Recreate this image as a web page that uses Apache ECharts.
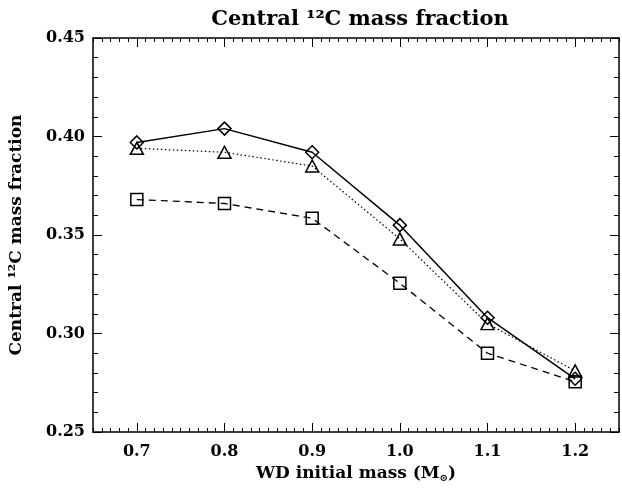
<!DOCTYPE html>
<html>
<head>
<meta charset="utf-8">
<script src="https://cdn.jsdelivr.net/npm/echarts@6/dist/echarts.min.js"></script>
<style>
  html, body { margin: 0; padding: 0; background: #fff; }
  #chart { width: 622px; height: 489px; }
</style>
</head>
<body>
<div id="chart"></div>
<script>
// WD initial mass (Msun)
var masses = [0.7, 0.8, 0.9, 1.0, 1.1, 1.2];
// central 12C mass fraction, one list per curve
var diamondVals = [0.397, 0.404, 0.392, 0.355, 0.308, 0.277];
var triangleVals = [0.394, 0.392, 0.385, 0.348, 0.305, 0.281];
var squareVals = [0.368, 0.366, 0.3585, 0.3255, 0.290, 0.2755];
// x tick labels
var xTicks = [0.7, 0.8, 0.9, 1.0, 1.1, 1.2];

var font = 'DejaVu Serif';

function pairs(ys) {
  return masses.map(function (m, i) { return [m, ys[i]]; });
}

var myChart = echarts.init(document.getElementById('chart'));

var lineBlack = { color: '#000', width: 1.5 };

// major x ticks (custom values, the range starts half way between ticks)
function xMajor(pos, labels) {
  return {
    type: 'value', min: 0.65, max: 1.25, position: pos,
    axisLine: { show: true, onZero: false, lineStyle: lineBlack },
    axisTick: { show: true, inside: true, length: 9, customValues: xTicks, lineStyle: { color: '#000', width: 1 } },
    axisLabel: labels ? {
      show: true, margin: 12, fontFamily: font, fontSize: 16, fontWeight: 'bold', color: '#000',
      customValues: xTicks,
      formatter: function (v) { return v.toFixed(1); }
    } : { show: false },
    splitLine: { show: false }
  };
}
// minor x ticks every 0.01
function xMinor(pos) {
  return {
    type: 'value', min: 0.65, max: 1.25, interval: 0.01, position: pos,
    axisLine: { show: false, onZero: false },
    axisTick: { show: true, inside: true, length: 4, lineStyle: { color: '#000', width: 1 } },
    axisLabel: { show: false },
    splitLine: { show: false }
  };
}

var xBottom = xMajor('bottom', true);
xBottom.name = '{a|WD initial mass (M}{s|⊙}{a|)}';
xBottom.nameLocation = 'middle';
xBottom.nameGap = 30;
xBottom.nameTextStyle = {
  rich: {
    a: { fontFamily: font, fontSize: 17, fontWeight: 'bold', color: '#000' },
    s: { fontFamily: font, fontSize: 10, fontWeight: 'bold', color: '#000', padding: [10, 0, 0, 0] }
  }
};

function yAxisDef(pos, labels) {
  var ax = {
    type: 'value', min: 0.25, max: 0.45, interval: 0.05, position: pos,
    axisLine: { show: true, onZero: false, lineStyle: lineBlack },
    axisTick: { show: true, inside: true, length: 9, lineStyle: { color: '#000', width: 1 } },
    minorTick: { show: true, splitNumber: 5, length: 5, lineStyle: { color: '#000', width: 1 } },
    axisLabel: labels ? {
      margin: 8, fontFamily: font, fontSize: 16, fontWeight: 'bold', color: '#000',
      formatter: function (v) { return v.toFixed(2); }
    } : { show: false },
    splitLine: { show: false }
  };
  if (labels) {
    ax.name = 'Central ¹²C mass fraction';
    ax.nameLocation = 'middle';
    ax.nameGap = 68;
    ax.nameTextStyle = { fontFamily: font, fontSize: 17, fontWeight: 'bold', color: '#000' };
  }
  return ax;
}

var option = {
  backgroundColor: '#fff',
  animation: false,
  title: {
    text: 'Central ¹²C mass fraction',
    left: 355,
    textAlign: 'center',
    top: 4,
    textStyle: { fontFamily: font, fontSize: 21, fontWeight: 'bold', color: '#000' }
  },
  grid: { left: 91, right: 3, top: 38, bottom: 57 },
  xAxis: [xBottom, xMajor('top', false), xMinor('bottom'), xMinor('top')],
  yAxis: [yAxisDef('left', true), yAxisDef('right', false)],
  series: [
    {
      name: 'diamond', type: 'line', data: pairs(diamondVals),
      symbol: 'path://M0,-1 L1,0 L0,1 L-1,0 Z', symbolSize: 13,
      lineStyle: { color: '#000', width: 1.5, type: 'solid' },
      itemStyle: { color: 'transparent', borderColor: '#000', borderWidth: 1.5 }
    },
    {
      name: 'triangle', type: 'line', data: pairs(triangleVals),
      symbol: 'triangle', symbolSize: [13, 12],
      lineStyle: { color: '#000', width: 1.2, type: [1.5, 2.5] },
      itemStyle: { color: 'transparent', borderColor: '#000', borderWidth: 1.5 }
    },
    {
      name: 'square', type: 'line', data: pairs(squareVals),
      symbol: 'rect', symbolSize: 12,
      lineStyle: { color: '#000', width: 1.3, type: [7, 5] },
      itemStyle: { color: 'transparent', borderColor: '#000', borderWidth: 1.5 }
    }
  ]
};
myChart.setOption(option);
</script>
</body>
</html>
